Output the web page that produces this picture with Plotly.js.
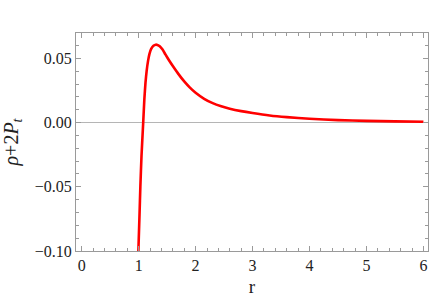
<!DOCTYPE html>
<html>
<head>
<meta charset="utf-8">
<script src="https://cdn.plot.ly/plotly-3.0.1.min.js"></script>
<style>html,body{margin:0;padding:0;background:#fff;}#chart{width:436px;height:304px;}</style>
</head>
<body>
<div id="chart"></div>
<script>
// Data
const rValues = [0.995, 1.0, 1.015, 1.03, 1.05, 1.08, 1.1, 1.12, 1.14, 1.165, 1.19, 1.22, 1.26, 1.3, 1.33, 1.37, 1.42, 1.47, 1.53, 1.6, 1.7, 1.8, 1.9, 2.0, 2.15, 2.3, 2.45, 2.6, 2.8, 3.0, 3.3, 3.6, 4.0, 4.5, 5.0, 5.5, 6.0];
const yValues = [-0.1, -0.093, -0.072, -0.05, -0.026, 0.0, 0.018, 0.031, 0.040, 0.048, 0.0535, 0.0574, 0.0598, 0.0606, 0.0604, 0.0594, 0.0568, 0.0530, 0.0487, 0.0440, 0.0377, 0.0320, 0.0272, 0.0232, 0.0185, 0.0151, 0.0127, 0.0108, 0.0089, 0.0074, 0.0055, 0.0042, 0.0029, 0.0019, 0.0013, 0.0009, 0.0006];
const xTicks = [0, 1, 2, 3, 4, 5, 6];
const yTicks = [-0.10, -0.05, 0.00, 0.05];
const yTickText = ["\u22120.10", "\u22120.05", "0.00", "0.05"];

const frame = '#9a9a9a';
const tickFont = {family: 'Liberation Serif, Times New Roman, serif', size: 16, color: '#222'};

Plotly.newPlot('chart', [{
  x: rValues, y: yValues, type: 'scatter', mode: 'lines',
  line: {color: '#ff0000', width: 2.6, shape: 'spline', smoothing: 0.5},
  hoverinfo: 'skip'
}], {
  width: 436, height: 304,
  margin: {l: 76, r: 8, t: 33, b: 53},
  paper_bgcolor: '#fff', plot_bgcolor: '#fff',
  showlegend: false,
  xaxis: {
    range: [-0.1, 6.08], tickvals: xTicks, ticktext: xTicks.map(String),
    showgrid: false, zeroline: false,
    showline: true, linecolor: frame, linewidth: 1, mirror: 'allticks',
    ticks: 'inside', ticklen: 5, tickcolor: frame, tickwidth: 1,
    minor: {dtick: 0.2, ticks: 'inside', ticklen: 3, tickcolor: frame, showgrid: false},
    tickfont: tickFont,
    title: {text: 'r', font: {family: 'Liberation Serif, Times New Roman, serif', size: 19, color: '#222'}, standoff: 6}
  },
  yaxis: {
    range: [-0.1, 0.0697], tickvals: yTicks, ticktext: yTickText,
    showgrid: false, zeroline: true, zerolinecolor: '#b5b5b5', zerolinewidth: 1,
    showline: true, linecolor: frame, linewidth: 1, mirror: 'allticks',
    ticks: 'inside', ticklen: 5, tickcolor: frame, tickwidth: 1,
    minor: {dtick: 0.01, ticks: 'inside', ticklen: 3, tickcolor: frame, showgrid: false},
    tickfont: tickFont,
    title: {text: '<i>\u03c1</i>+2<i>P</i><sub><i>t</i></sub>', font: {family: 'Liberation Serif, Times New Roman, serif', size: 20, color: '#222'}, standoff: 16}
  }
}, {staticPlot: true, displayModeBar: false});
</script>
</body>
</html>
